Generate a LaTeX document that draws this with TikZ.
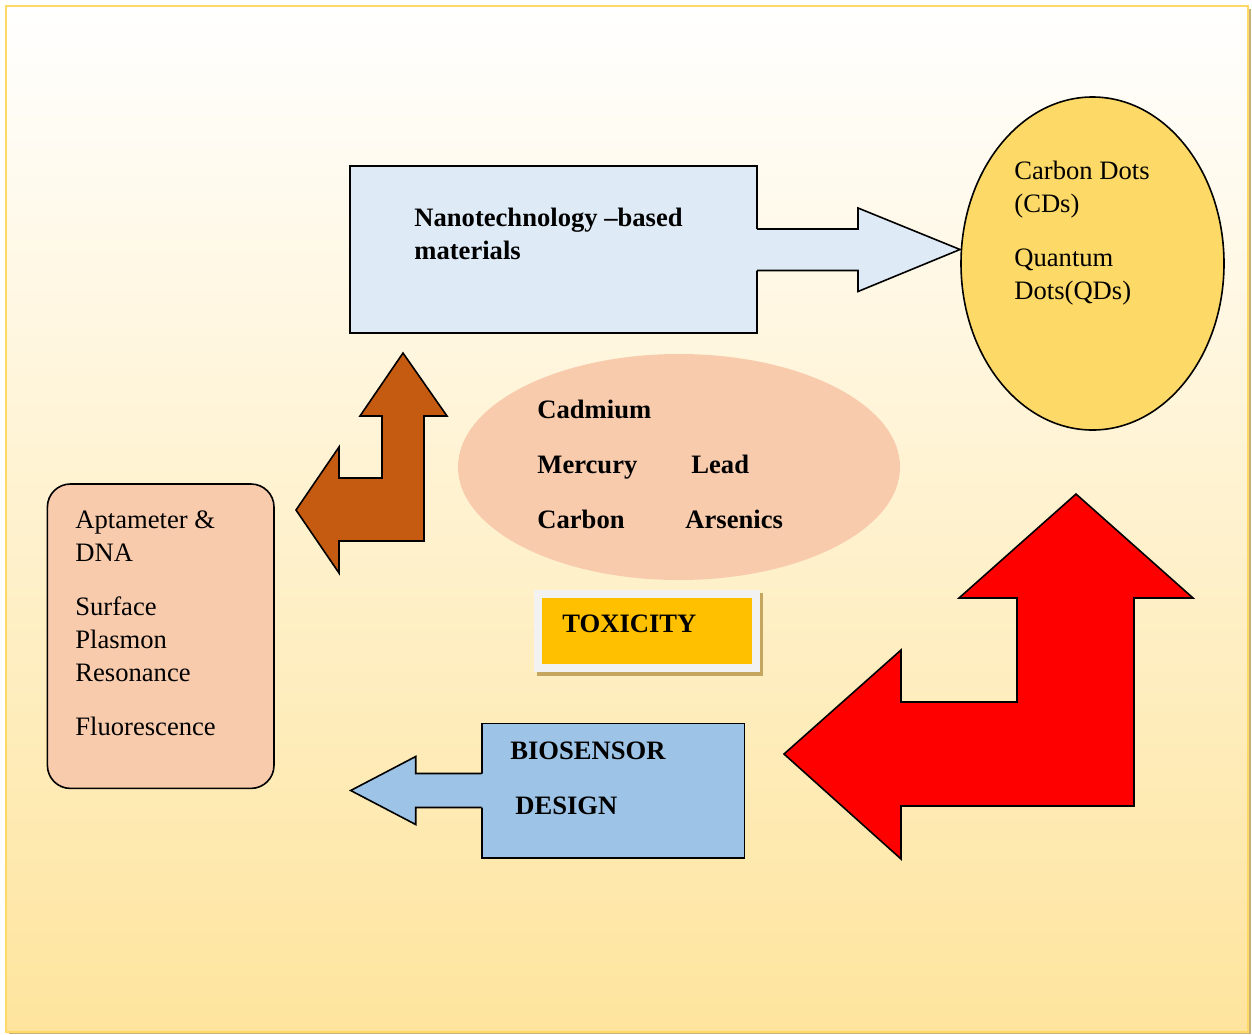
\documentclass[tikz,border=0pt]{standalone}
\usepackage{fontspec}
\setmainfont{Liberation Serif}
\usetikzlibrary{shapes.geometric,calc}

\definecolor{framegold}{HTML}{FFD966}
\definecolor{frameshadow}{HTML}{C9B27A}
\definecolor{bgbottom}{HTML}{FEE49D}
\definecolor{nanofill}{HTML}{DEEAF6}
\definecolor{dotsfill}{HTML}{FDD967}
\definecolor{peach}{HTML}{F8CBAD}
\definecolor{toxorange}{HTML}{FFC000}
\definecolor{toxframe}{HTML}{F2F2F2}
\definecolor{toxshadow}{HTML}{C4A65E}
\definecolor{brownarrow}{HTML}{C55A11}
\definecolor{biofill}{HTML}{9DC3E6}

\tikzset{
  edge/.style={draw=black, line width=0.8pt},
  box/.style={edge, rectangle, inner sep=0pt, outer sep=0pt},
  txt/.style={anchor=base west, inner sep=0pt, align=left,
    font=\fontsize{13.3pt}{16.5pt}\selectfont},
  btxt/.style={txt, font=\fontsize{13.3pt}{16.5pt}\selectfont\bfseries},
}

\begin{document}
\begin{tikzpicture}[x=0.5pt,y=-0.5pt]
    \useasboundingbox (0,0) rectangle (1252,1034);
    \fill[white] (0,0) rectangle (1252,1034);
    \fill[frameshadow] (9,9) rectangle (1250.5,1034);
    \shadedraw[top color=white, bottom color=bgbottom, draw=framegold, line width=1pt] (6,6) rectangle (1248,1032);

    \node[box, fill=nanofill, minimum width=203.5pt, minimum height=83.5pt] (nano) at (553.5,249.5) {};
    \node[btxt] (nanotxt) at (414,259) {Nanotechnology --based\\materials};
    \node[edge, ellipse, fill=dotsfill, inner sep=0pt, minimum width=131.5pt, minimum height=166.5pt] (dots) at (1092.5,263.5) {};
    \node[txt] (dotstxt) at (1014,299) {Carbon Dots\\(CDs)\\[10.5pt]Quantum\\Dots(QDs)};

    \path[fill=nanofill] ($(nano.east)+(-2,-20.5)$) -- ++(103,0) -- ++(0,-21) -- ++(102,41.5) -- ++(-102,42) -- ++(0,-21) -- ++(-103,0) -- cycle;
    \draw[edge] ($(nano.east)+(0,-20.5)$) -- ++(101,0) -- ++(0,-21) -- ++(102,41.5) -- ++(-102,42) -- ++(0,-21) -- ++(-101,0);

    \node[ellipse, fill=peach, minimum width=221pt, minimum height=113pt] (metals) at (679,467) {};
    \node[btxt] (cadmium) at (537,418) {Cadmium};
    \node[btxt] (mercury) at (537,473) {Mercury};
    \node[btxt] (lead) at (691,473) {Lead};
    \node[btxt] (carbon) at (537,528) {Carbon};
    \node[btxt] (arsenic) at (685,528) {Arsenics};

    \fill[toxshadow] (537,593) rectangle (763,676);
    \node[rectangle, fill=toxorange, draw=toxframe, line width=4pt, minimum width=109pt, minimum height=37pt] (tox) at (647,631) {};
    \node[btxt] (toxtxt) at (562,632) {TOXICITY};

    \node[box, rounded corners=11.5pt, fill=peach, minimum width=113.3pt, minimum height=152.2pt] (methods) at (160.7,636.2) {};
    \node[txt] (methodstxt) at (75,735) {Aptameter \&\\DNA\\[10.5pt]Surface\\Plasmon\\Resonance\\[10.5pt]Fluorescence};

    \draw[edge, fill=brownarrow] (403,353) -- ++(44,63) -- ++(-23,0) -- ++(0,125) -- ++(-85,0) -- ++(0,32) -- ++(-43,-63) -- ++(43,-63) -- ++(0,31) -- ++(43,0) -- ++(0,-62) -- ++(-22,0) -- cycle;

    \draw[edge, fill=red] (1076,494) -- ++(117,104) -- ++(-59,0) -- ++(0,208) -- ++(-233,0) -- ++(0,53) -- ++(-117,-105) -- ++(117,-104) -- ++(0,52) -- ++(116,0) -- ++(0,-104) -- ++(-58,0) -- cycle;

    \node[box, fill=biofill, minimum width=131.3pt, minimum height=67.2pt] (bio) at (613,790.5) {};
    \path[fill=biofill] ($(bio.west)+(2,-17)$) -- ++(-68,0) -- ++(0,-17) -- ++(-65,34) -- ++(65,34) -- ++(0,-17) -- ++(68,0) -- cycle;
    \draw[edge] ($(bio.west)+(0,-17)$) -- ++(-66,0) -- ++(0,-17) -- ++(-65,34) -- ++(65,34) -- ++(0,-17) -- ++(66,0);
    \node[btxt] (biotxt) at (510,759) {BIOSENSOR};
    \node[btxt] (designtxt) at (515,814) {DESIGN};
\end{tikzpicture}
\end{document}
